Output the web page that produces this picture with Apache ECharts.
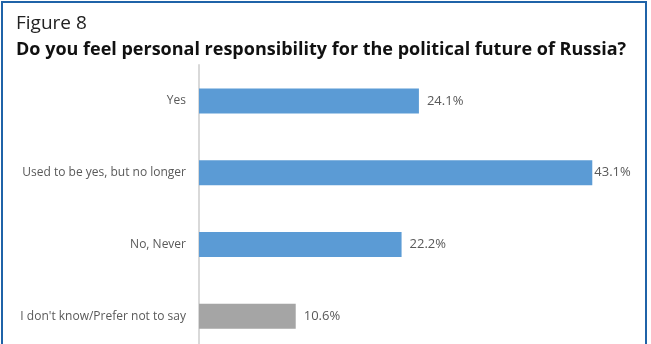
<!DOCTYPE html>
<html>
<head>
<meta charset="utf-8">
<script src="https://cdn.jsdelivr.net/npm/echarts@6/dist/echarts.min.js"></script>
<style>
  html, body { margin: 0; padding: 0; background: #fff; overflow: hidden; }
  /* the plot runs past the lower edge of the frame, so the canvas is taller than the view */
  #chart { width: 651px; height: 364px; }
</style>
</head>
<body>
<div id="chart"></div>
<script>
// Survey answers, top to bottom
const categories = [
  "Yes",
  "Used to be yes, but no longer",
  "No, Never",
  "I don't know/Prefer not to say"
];
const values = [24.1, 43.1, 22.2, 10.6];
const barColors = ["#5b9bd5", "#5b9bd5", "#5b9bd5", "#a5a5a5"];
// the longest bar's label sits tight against its end to stay inside the frame
const labelGaps = [8, 2, 8, 8];

const chart = echarts.init(document.getElementById("chart"), null, { renderer: "canvas" });
const FONT = "'Open Sans', 'Noto Sans', sans-serif";

chart.setOption({
  animation: false,
  backgroundColor: "#ffffff",
  title: [
    {
      text: "Figure 8",
      left: 11,
      top: 9,
      textStyle: { fontFamily: FONT, fontSize: 19, fontWeight: "normal", color: "#222222" }
    },
    {
      text: "Do you feel personal responsibility for the political future of Russia?",
      left: 11,
      top: 36,
      textStyle: { fontFamily: FONT, fontSize: 18, fontWeight: "bold", color: "#111111" }
    }
  ],
  graphic: [
    {
      type: "rect",
      shape: { x: 2, y: 2, width: 644, height: 380 },
      style: { fill: null, stroke: "#1f63a8", lineWidth: 2 },
      silent: true
    }
  ],
  grid: { left: 199, top: 65, width: 438, height: 287 },
  xAxis: {
    type: "value",
    min: 0,
    max: 48,
    show: false
  },
  yAxis: {
    type: "category",
    data: categories,
    inverse: true,
    axisLine: { show: true, lineStyle: { color: "#d9d9d9", width: 2 } },
    axisTick: { show: false },
    axisLabel: {
      margin: 13,
      fontFamily: FONT,
      fontSize: 12,
      color: "#595959"
    }
  },
  series: [
    {
      type: "bar",
      barWidth: 25,
      data: values.map((v, i) => ({
        value: v,
        itemStyle: { color: barColors[i] },
        label: { distance: labelGaps[i] }
      })),
      label: {
        show: true,
        position: "right",
        fontFamily: FONT,
        fontSize: 13,
        color: "#595959",
        formatter: p => p.value.toFixed(1) + "%"
      }
    }
  ]
});
</script>
</body>
</html>
